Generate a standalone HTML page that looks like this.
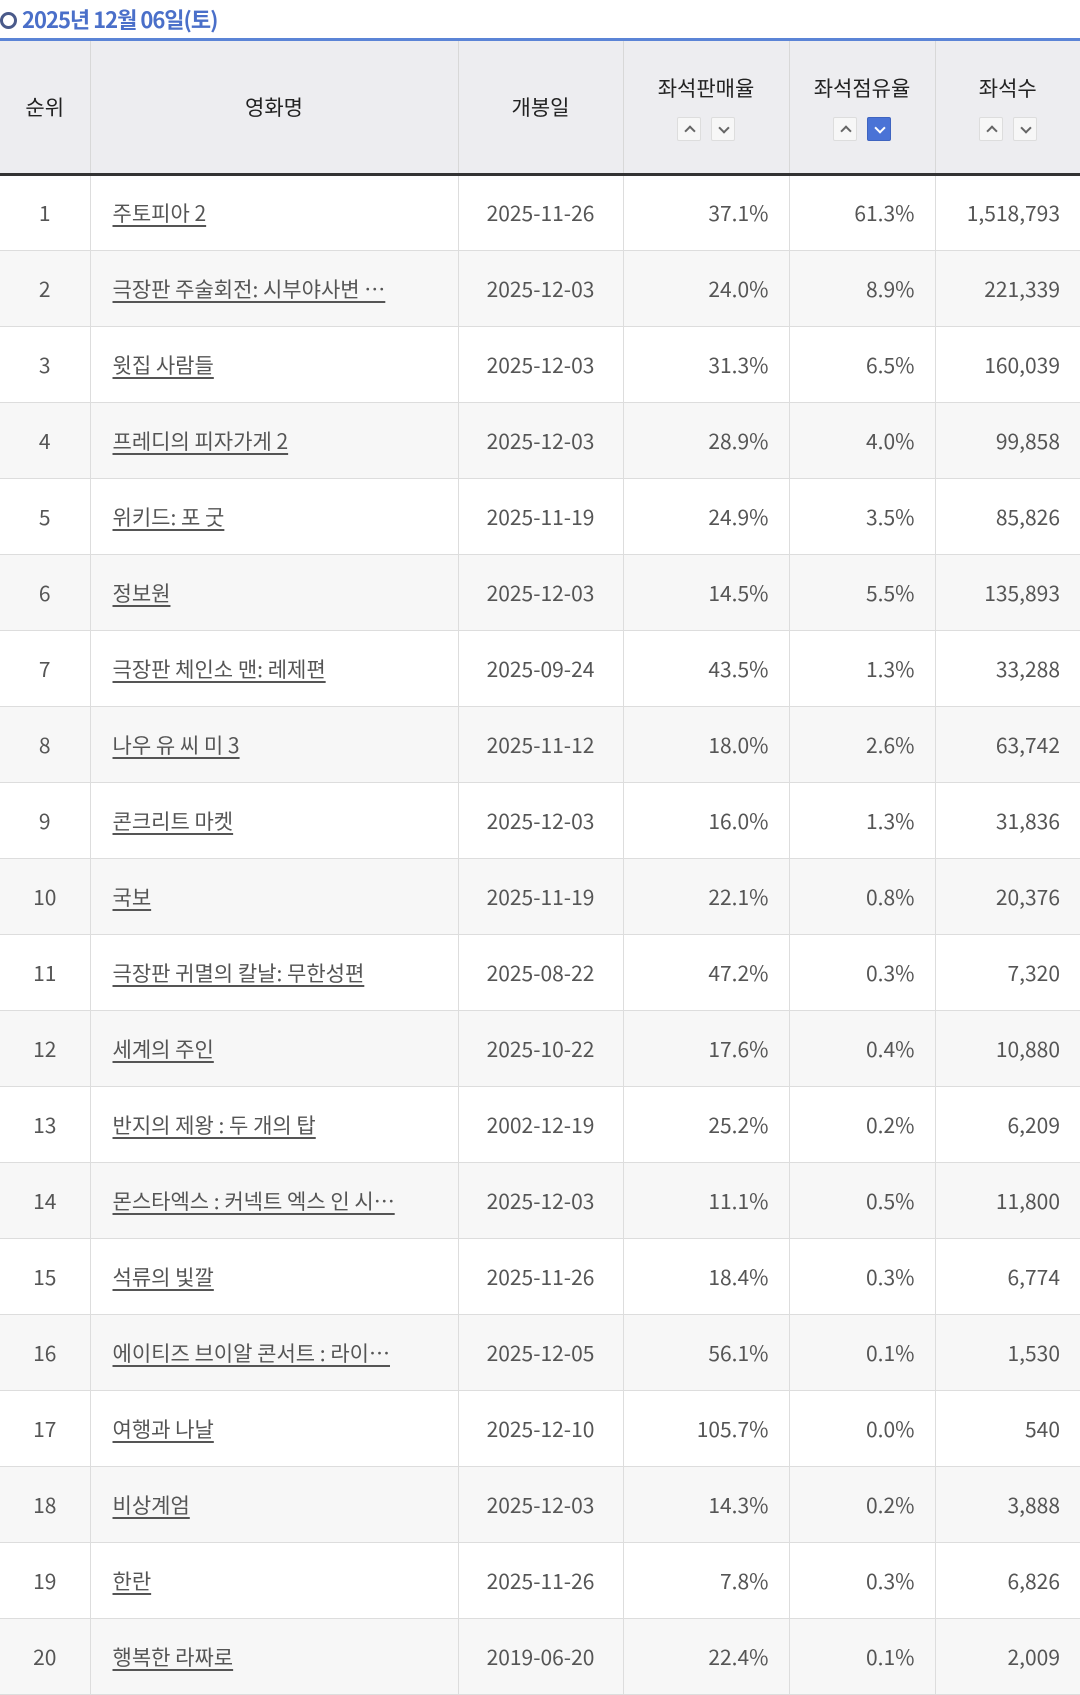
<!DOCTYPE html>
<html><head><meta charset="utf-8"><style>
*{margin:0;padding:0;box-sizing:border-box}
body{width:1080px;height:1695px;background:#fff;font-family:"Liberation Sans","Noto Sans CJK KR",sans-serif;color:#555;overflow:hidden;position:relative}
.title{position:absolute;left:0px;top:3px;font-size:22px;font-weight:bold;color:#4a6fc9;letter-spacing:-1px;font-family:"Noto Sans CJK KR",sans-serif}
.title .c{display:inline-block;width:17px;height:17px;border:3.5px solid #4a5a8a;border-radius:50%;vertical-align:-1px;margin-right:5px}
table{position:absolute;left:0;top:38px;width:1080px;border-collapse:collapse;table-layout:fixed;border-top:3px solid #5b84d6}
th{background:#ededf0;height:135px;font-weight:normal;font-size:21px;color:#222;border-left:1px solid #d8d8d8;border-bottom:3px solid #333;vertical-align:middle;font-family:"Noto Sans CJK KR",sans-serif}
th:first-child{border-left:none}
td{height:76px;border-left:1px solid #ddd;border-bottom:1px solid #ddd;font-size:21px;color:#555;font-family:"Noto Sans CJK KR",sans-serif}
td:first-child{border-left:none;text-align:center}
tr:nth-child(odd) td{background:#f7f7f7}
td.n{padding-left:22px}td.n span{text-decoration:underline;text-underline-offset:4px}
td.d{text-align:center}
td.r{text-align:right;padding-right:20px}
.bt{margin-top:14px;display:flex;justify-content:center;gap:10px}
.bt i{display:block;position:relative;width:24px;height:24px;border:1px solid #ddd;border-radius:2px;background:#f7f7f7}
.bt i::after{content:"";position:absolute;left:8px;width:6px;height:6px;border-left:2px solid #666;border-top:2px solid #666}
.bt i.u::after{top:9px;transform:rotate(45deg)}
.bt i.d::after{top:6px;transform:rotate(225deg)}
.bt i.on{background:#4a73d6;border-color:#3f64c0}
.bt i.on::after{border-color:#fff}
</style></head><body>
<div class="title"><span class="c"></span>2025년 12월 06일(토)</div>
<table>
<colgroup><col style="width:90px"><col style="width:368px"><col style="width:165px"><col style="width:166px"><col style="width:146px"><col style="width:145px"></colgroup>
<tr><th>순위</th><th>영화명</th><th>개봉일</th>
<th>좌석판매율<div class="bt"><i class="u"></i><i class="d"></i></div></th>
<th>좌석점유율<div class="bt"><i class="u"></i><i class="d on"></i></div></th>
<th>좌석수<div class="bt"><i class="u"></i><i class="d"></i></div></th></tr>
<tr><td>1</td><td class="n"><span>주토피아 2</span></td><td class="d">2025-11-26</td><td class="r">37.1%</td><td class="r">61.3%</td><td class="r">1,518,793</td></tr>
<tr><td>2</td><td class="n"><span>극장판 주술회전: 시부야사변 …</span></td><td class="d">2025-12-03</td><td class="r">24.0%</td><td class="r">8.9%</td><td class="r">221,339</td></tr>
<tr><td>3</td><td class="n"><span>윗집 사람들</span></td><td class="d">2025-12-03</td><td class="r">31.3%</td><td class="r">6.5%</td><td class="r">160,039</td></tr>
<tr><td>4</td><td class="n"><span>프레디의 피자가게 2</span></td><td class="d">2025-12-03</td><td class="r">28.9%</td><td class="r">4.0%</td><td class="r">99,858</td></tr>
<tr><td>5</td><td class="n"><span>위키드: 포 굿</span></td><td class="d">2025-11-19</td><td class="r">24.9%</td><td class="r">3.5%</td><td class="r">85,826</td></tr>
<tr><td>6</td><td class="n"><span>정보원</span></td><td class="d">2025-12-03</td><td class="r">14.5%</td><td class="r">5.5%</td><td class="r">135,893</td></tr>
<tr><td>7</td><td class="n"><span>극장판 체인소 맨: 레제편</span></td><td class="d">2025-09-24</td><td class="r">43.5%</td><td class="r">1.3%</td><td class="r">33,288</td></tr>
<tr><td>8</td><td class="n"><span>나우 유 씨 미 3</span></td><td class="d">2025-11-12</td><td class="r">18.0%</td><td class="r">2.6%</td><td class="r">63,742</td></tr>
<tr><td>9</td><td class="n"><span>콘크리트 마켓</span></td><td class="d">2025-12-03</td><td class="r">16.0%</td><td class="r">1.3%</td><td class="r">31,836</td></tr>
<tr><td>10</td><td class="n"><span>국보</span></td><td class="d">2025-11-19</td><td class="r">22.1%</td><td class="r">0.8%</td><td class="r">20,376</td></tr>
<tr><td>11</td><td class="n"><span>극장판 귀멸의 칼날: 무한성편</span></td><td class="d">2025-08-22</td><td class="r">47.2%</td><td class="r">0.3%</td><td class="r">7,320</td></tr>
<tr><td>12</td><td class="n"><span>세계의 주인</span></td><td class="d">2025-10-22</td><td class="r">17.6%</td><td class="r">0.4%</td><td class="r">10,880</td></tr>
<tr><td>13</td><td class="n"><span>반지의 제왕 : 두 개의 탑</span></td><td class="d">2002-12-19</td><td class="r">25.2%</td><td class="r">0.2%</td><td class="r">6,209</td></tr>
<tr><td>14</td><td class="n"><span>몬스타엑스 : 커넥트 엑스 인 시…</span></td><td class="d">2025-12-03</td><td class="r">11.1%</td><td class="r">0.5%</td><td class="r">11,800</td></tr>
<tr><td>15</td><td class="n"><span>석류의 빛깔</span></td><td class="d">2025-11-26</td><td class="r">18.4%</td><td class="r">0.3%</td><td class="r">6,774</td></tr>
<tr><td>16</td><td class="n"><span>에이티즈 브이알 콘서트 : 라이…</span></td><td class="d">2025-12-05</td><td class="r">56.1%</td><td class="r">0.1%</td><td class="r">1,530</td></tr>
<tr><td>17</td><td class="n"><span>여행과 나날</span></td><td class="d">2025-12-10</td><td class="r">105.7%</td><td class="r">0.0%</td><td class="r">540</td></tr>
<tr><td>18</td><td class="n"><span>비상계엄</span></td><td class="d">2025-12-03</td><td class="r">14.3%</td><td class="r">0.2%</td><td class="r">3,888</td></tr>
<tr><td>19</td><td class="n"><span>한란</span></td><td class="d">2025-11-26</td><td class="r">7.8%</td><td class="r">0.3%</td><td class="r">6,826</td></tr>
<tr><td>20</td><td class="n"><span>행복한 라짜로</span></td><td class="d">2019-06-20</td><td class="r">22.4%</td><td class="r">0.1%</td><td class="r">2,009</td></tr>
</table>
</body></html>
